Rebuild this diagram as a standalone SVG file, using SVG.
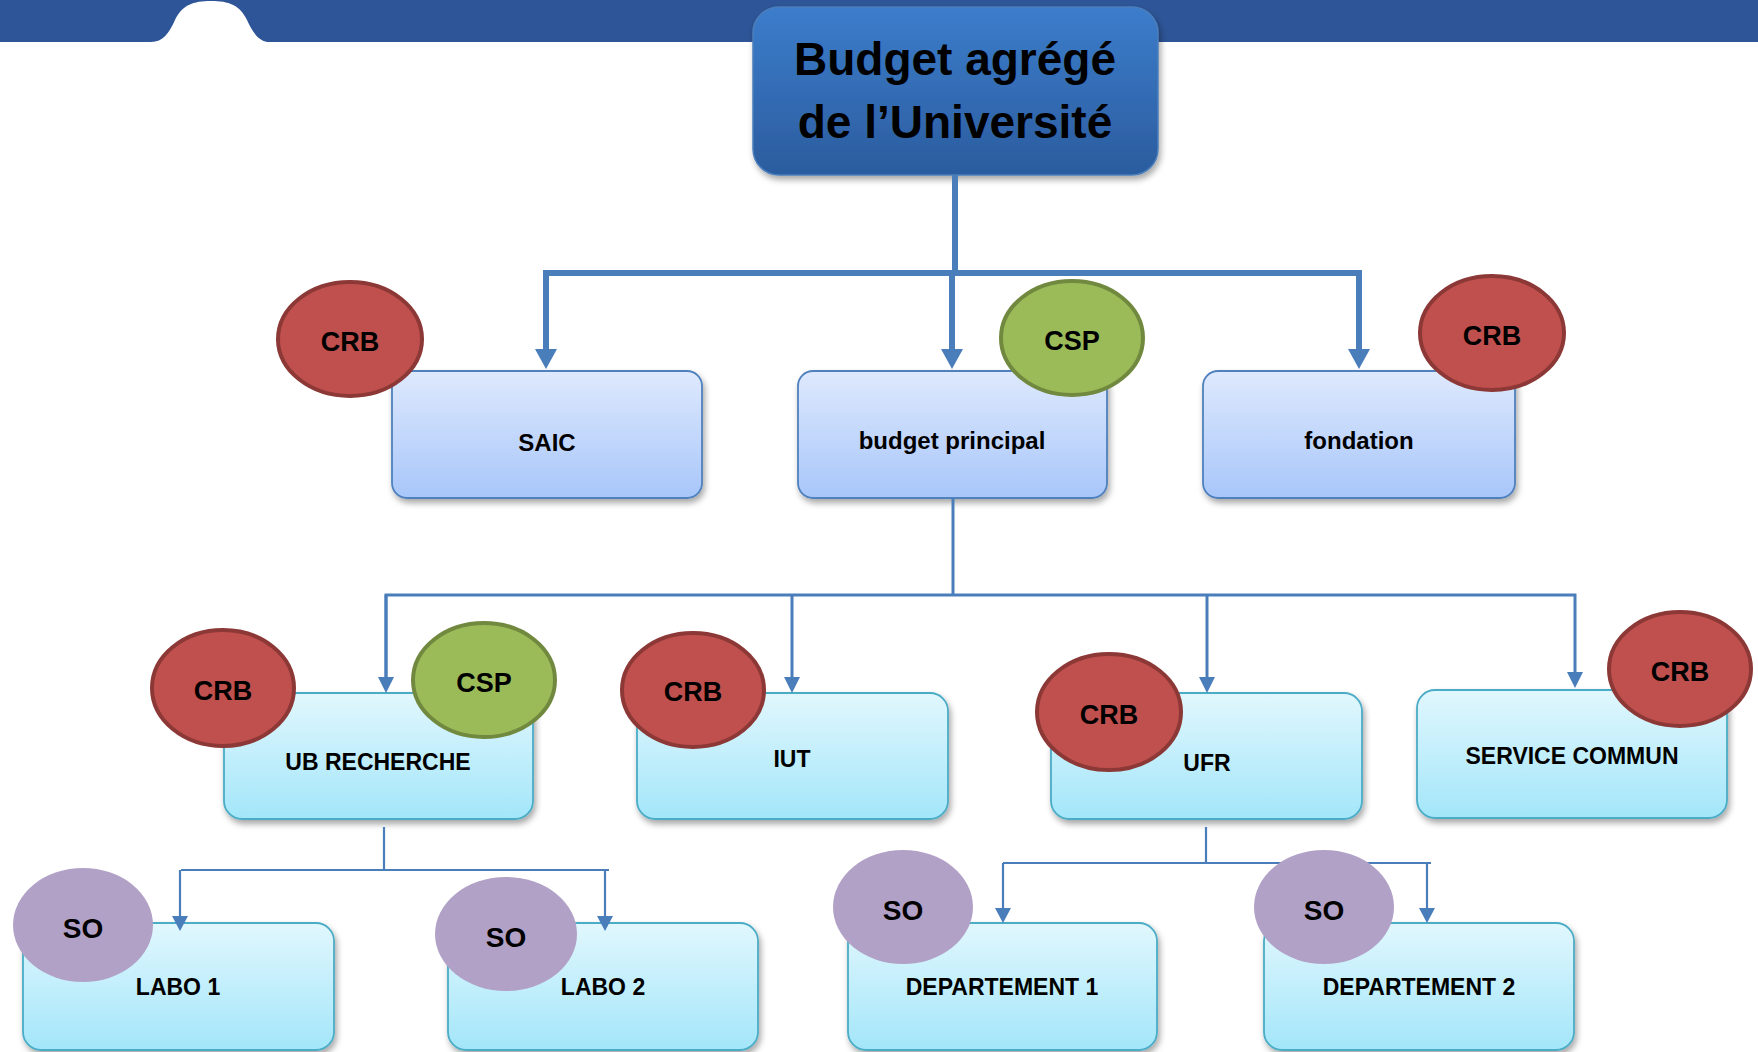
<svg xmlns="http://www.w3.org/2000/svg" width="1758" height="1052" viewBox="0 0 1758 1052">
  <defs>
    <linearGradient id="gTitle" x1="0" y1="0" x2="0" y2="1">
      <stop offset="0" stop-color="#3C7DCC"/>
      <stop offset="1" stop-color="#2B5C9E"/>
    </linearGradient>
    <linearGradient id="gBlue" x1="0" y1="0" x2="0" y2="1">
      <stop offset="0" stop-color="#DEE9FD"/>
      <stop offset="1" stop-color="#A8C6FA"/>
    </linearGradient>
    <linearGradient id="gCyan" x1="0" y1="0" x2="0" y2="1">
      <stop offset="0" stop-color="#E1F7FD"/>
      <stop offset="1" stop-color="#A3E6FA"/>
    </linearGradient>
    <filter id="shadow" x="-10%" y="-10%" width="120%" height="130%">
      <feDropShadow dx="2" dy="4" stdDeviation="3" flood-color="#000" flood-opacity="0.35"/>
    </filter>
    <marker id="arrowL" markerUnits="userSpaceOnUse" markerWidth="20" markerHeight="22" refX="0" refY="11" orient="auto">
      <path d="M0,0 L20,11 L0,22 Z" fill="#4A7EBB"/>
    </marker>
    <marker id="arrowM" markerUnits="userSpaceOnUse" markerWidth="16" markerHeight="16" refX="0" refY="8" orient="auto">
      <path d="M0,0 L16,8 L0,16 Z" fill="#4A7EBB"/>
    </marker>
    <marker id="arrowS" markerUnits="userSpaceOnUse" markerWidth="15" markerHeight="16" refX="0" refY="8" orient="auto">
      <path d="M0,0 L15,8 L0,16 Z" fill="#4A7EBB"/>
    </marker>
  </defs>
  <style>
    text { font-family: "Liberation Sans", Arial, sans-serif; font-weight: bold; fill: #000; text-anchor: middle; }
    .title { font-size: 46px; }
    .l2 { font-size: 24px; }
    .l3 { font-size: 23px; }
    .badge { font-size: 27px; }
    .so { font-size: 28px; }
    .boxTitle { fill: url(#gTitle); stroke: #4A7EBB; stroke-width: 1.5; filter: url(#shadow); }
    .boxBlue { fill: url(#gBlue); stroke: #4F81BD; stroke-width: 1.8; filter: url(#shadow); }
    .boxCyan { fill: url(#gCyan); stroke: #4BACC6; stroke-width: 1.8; filter: url(#shadow); }
    .crb { fill: #C0504D; stroke: #8C3836; stroke-width: 4; }
    .csp { fill: #9BBB59; stroke: #71893F; stroke-width: 4; }
    .soE { fill: #B2A1C7; }
    .thick { fill: none; stroke: #4A7EBB; stroke-width: 6; }
    .mid { fill: none; stroke: #4A7EBB; stroke-width: 3; }
    .thin { fill: none; stroke: #4A7EBB; stroke-width: 2.2; }
  </style>

  <!-- top banner with a rounded notch -->
  <path d="M0,0 H1758 V42 H270 C259,42 253,33 247,20 C240,5 229,1 211,1 C193,1 182,5 175,20 C169,33 163,42 151,42 H0 Z" fill="#2E5597"/>

  <!-- boxes -->
  <g id="budget-agrege">
    <rect class="boxTitle" x="753" y="7" width="405" height="168" rx="26"/>
    <text class="title" x="955" y="75">Budget agrégé</text>
    <text class="title" x="955" y="138">de l’Université</text>
  </g>
  <g id="saic">
    <rect class="boxBlue" x="392" y="371" width="310" height="127" rx="15"/>
    <text class="l2" x="547" y="451">SAIC</text>
  </g>
  <g id="budget-principal">
    <rect class="boxBlue" x="798" y="371" width="309" height="127" rx="15"/>
    <text class="l2" x="952" y="449">budget principal</text>
  </g>
  <g id="fondation">
    <rect class="boxBlue" x="1203" y="371" width="312" height="127" rx="15"/>
    <text class="l2" x="1359" y="449">fondation</text>
  </g>
  <g id="ub-recherche">
    <rect class="boxCyan" x="224" y="693" width="309" height="126" rx="18"/>
    <text class="l3" x="378" y="770">UB RECHERCHE</text>
  </g>
  <g id="iut">
    <rect class="boxCyan" x="637" y="693" width="311" height="126" rx="18"/>
    <text class="l3" x="792" y="767">IUT</text>
  </g>
  <g id="ufr">
    <rect class="boxCyan" x="1051" y="693" width="311" height="126" rx="18"/>
    <text class="l3" x="1207" y="771">UFR</text>
  </g>
  <g id="service-commun">
    <rect class="boxCyan" x="1417" y="690" width="310" height="128" rx="18"/>
    <text class="l3" x="1572" y="764">SERVICE COMMUN</text>
  </g>
  <g id="labo-1">
    <rect class="boxCyan" x="23" y="923" width="311" height="127" rx="18"/>
    <text class="l3" x="178" y="995">LABO 1</text>
  </g>
  <g id="labo-2">
    <rect class="boxCyan" x="448" y="923" width="310" height="127" rx="18"/>
    <text class="l3" x="603" y="995">LABO 2</text>
  </g>
  <g id="departement-1">
    <rect class="boxCyan" x="848" y="923" width="309" height="127" rx="18"/>
    <text class="l3" x="1002" y="995">DEPARTEMENT 1</text>
  </g>
  <g id="departement-2">
    <rect class="boxCyan" x="1264" y="923" width="310" height="127" rx="18"/>
    <text class="l3" x="1419" y="995">DEPARTEMENT 2</text>
  </g>

  <!-- connectors -->
  <g id="connectors">
    <path class="thick" d="M955,175 V273"/>
    <path class="thick" d="M955,273 H546 V349" marker-end="url(#arrowL)"/>
    <path class="thick" d="M955,273 H1359 V349" marker-end="url(#arrowL)"/>
    <path class="thick" d="M952,273 V349" marker-end="url(#arrowL)"/>

    <path class="mid" d="M953,498 V595"/>
    <path class="mid" d="M386,677 V595 H1575 V672" marker-end="url(#arrowM)"/>
    <path class="mid" d="M386,595 V677" marker-end="url(#arrowM)"/>
    <path class="mid" d="M792,595 V677" marker-end="url(#arrowM)"/>
    <path class="mid" d="M1207,595 V677" marker-end="url(#arrowM)"/>

    <path class="thin" d="M384,827 V870"/>
    <path class="thin" d="M181,870 H609"/>
    <path class="thin" d="M180,870 V916" marker-end="url(#arrowS)"/>
    <path class="thin" d="M605,870 V916" marker-end="url(#arrowS)"/>

    <path class="thin" d="M1206,827 V863"/>
    <path class="thin" d="M1003,863 H1431"/>
    <path class="thin" d="M1003,863 V908" marker-end="url(#arrowS)"/>
    <path class="thin" d="M1427,863 V908" marker-end="url(#arrowS)"/>
  </g>

  <!-- role badges -->
  <g id="crb-saic">
    <ellipse class="crb" cx="350" cy="339" rx="72" ry="57"/>
    <text class="badge" x="350" y="351">CRB</text>
  </g>
  <g id="csp-budget-principal">
    <ellipse class="csp" cx="1072" cy="338" rx="71" ry="57"/>
    <text class="badge" x="1072" y="350">CSP</text>
  </g>
  <g id="crb-fondation">
    <ellipse class="crb" cx="1492" cy="333" rx="72" ry="57"/>
    <text class="badge" x="1492" y="345">CRB</text>
  </g>
  <g id="crb-ub-recherche">
    <ellipse class="crb" cx="223" cy="688" rx="71" ry="58"/>
    <text class="badge" x="223" y="700">CRB</text>
  </g>
  <g id="csp-ub-recherche">
    <ellipse class="csp" cx="484" cy="680" rx="71" ry="57"/>
    <text class="badge" x="484" y="692">CSP</text>
  </g>
  <g id="crb-iut">
    <ellipse class="crb" cx="693" cy="690" rx="71" ry="57"/>
    <text class="badge" x="693" y="701">CRB</text>
  </g>
  <g id="crb-ufr">
    <ellipse class="crb" cx="1109" cy="712" rx="72" ry="58"/>
    <text class="badge" x="1109" y="724">CRB</text>
  </g>
  <g id="crb-service-commun">
    <ellipse class="crb" cx="1680" cy="669" rx="71" ry="57"/>
    <text class="badge" x="1680" y="681">CRB</text>
  </g>
  <g id="so-labo-1">
    <ellipse class="soE" cx="83" cy="925" rx="70" ry="57"/>
    <text class="so" x="83" y="938">SO</text>
  </g>
  <g id="so-labo-2">
    <ellipse class="soE" cx="506" cy="934" rx="71" ry="57"/>
    <text class="so" x="506" y="947">SO</text>
  </g>
  <g id="so-departement-1">
    <ellipse class="soE" cx="903" cy="907" rx="70" ry="57"/>
    <text class="so" x="903" y="920">SO</text>
  </g>
  <g id="so-departement-2">
    <ellipse class="soE" cx="1324" cy="907" rx="70" ry="57"/>
    <text class="so" x="1324" y="920">SO</text>
  </g>
</svg>
